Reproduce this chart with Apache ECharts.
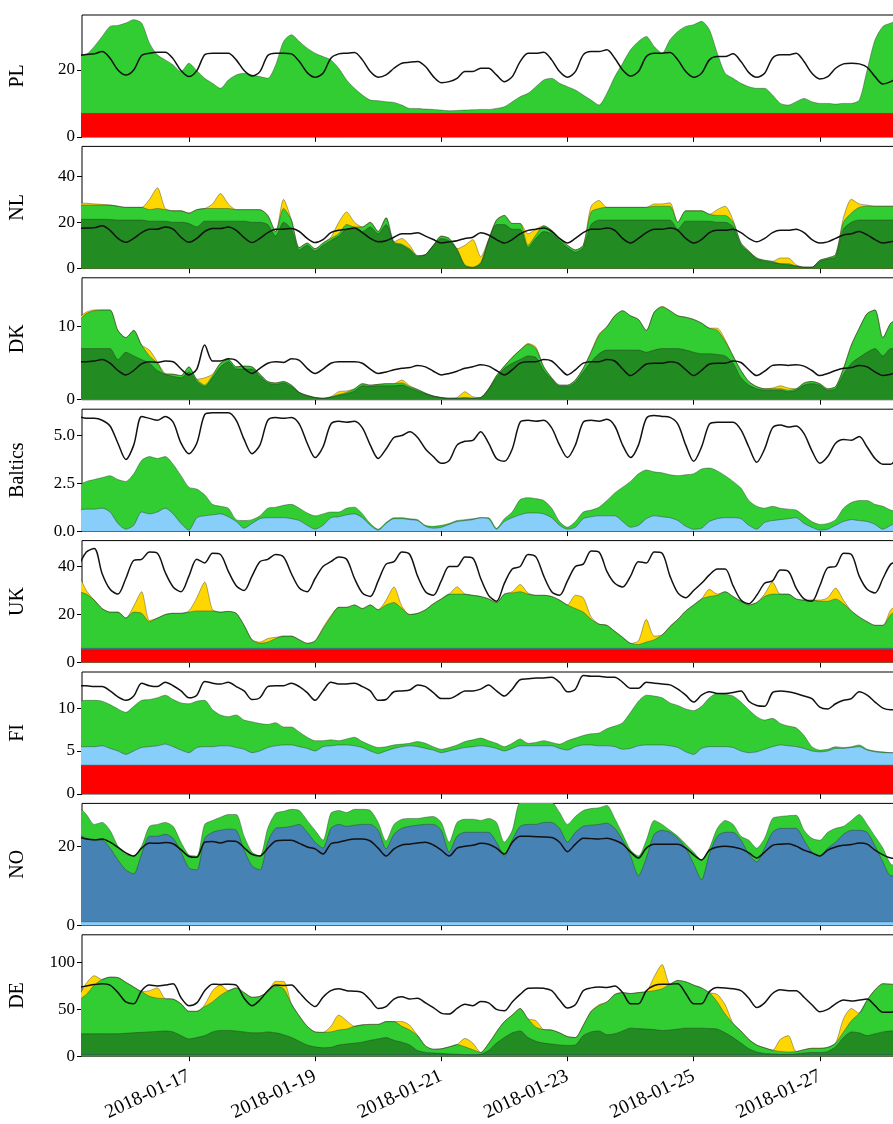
<!DOCTYPE html>
<html>
<head>
<meta charset="utf-8">
<script src="https://cdn.jsdelivr.net/npm/echarts@6/dist/echarts.min.js"></script>
<style>
  html, body { margin: 0; padding: 0; background: #fff; overflow: hidden; }
  /* the figure is wider than the window: its right part is cut off, as in the source */
  #chart { width: 960px; height: 1124px; }
</style>
</head>
<body>
<div id="chart"></div>
<script>
// 3-hourly samples from 2018-01-15 06:00, daily samples from 2018-01-15 00:00
const T0 = new Date(2018, 0, 15, 6).getTime();
const STEP = 3 * 3600 * 1000;
const D0 = new Date(2018, 0, 15).getTime();
const DAY = 24 * 3600 * 1000;

// ---- PL ----
const PL_LOAD = [
  24.3, 24.6, 24.8, 25.5, 23.5, 20,
  18.5, 20, 24.3, 25, 25.3, 25.3, 23.3, 19.8,
  18, 19.8, 24.5, 25, 25, 25, 23, 19.8,
  18.2, 19.5, 24.3, 25, 25, 24.8, 22.5, 19.2,
  17.8, 19, 23.5, 24.8, 25, 25.2, 23, 19.5,
  17.8, 18.5, 20.5, 22, 22.3, 22.5, 21, 18,
  16.2, 16.5, 17.5, 19.5, 19.5, 20.5, 20.5, 18.5,
  16.5, 18, 22.5, 25, 25, 25.3, 23, 19.5,
  17.8, 19.5, 24.5, 25.5, 25.5, 26, 23.5, 20,
  18.2, 19.5, 24, 25, 25, 25.2, 23, 19.5,
  17.8, 19, 23, 24, 24, 24.8, 22.5, 19.2,
  17.8, 19, 23.5, 24.5, 24.5, 25, 22.5, 19,
  17.3, 18, 20.5, 21.8, 22, 21.8, 20.8, 18,
  15.8, 16.5, 18
];
const PL_WIND = [
  24.5, 24.7, 27, 30, 33, 33.3, 34, 35,
  34, 28, 24.5, 23, 21.5, 19.5, 22, 19.8,
  17.5, 16, 14.5, 17, 18.5, 19, 18.5, 18,
  17.5, 21.5, 28.5, 30.5, 28.5, 26.5, 25, 24,
  23, 20.5, 17, 14.5, 12.5, 11, 10.8, 10.5,
  10.3, 9.5, 8.5, 8.5, 8.3, 8.2, 8.0, 7.8,
  7.9, 8.0, 8.1, 8.2, 8.2, 8.5, 9, 10.5,
  12, 13, 15, 17, 17.5, 16, 15, 14,
  12.5, 11, 9.5, 13, 18, 22, 26, 28.5,
  30, 27, 25, 29, 31.5, 33, 33.5, 34.5,
  32, 25, 19, 17.5, 16, 15, 14.5, 14.5,
  12.5, 10, 9.5, 10.5, 11.5, 10.5, 10, 10,
  9.8, 10, 10, 11, 20, 29, 33, 34,
  35
];
const PL_BASE = [7, 7, 7, 7, 7, 7, 7, 7, 7, 7, 7, 7, 7, 7, 7];

// ---- NL ----
const NL_LOAD = [
  17.3, 17.5, 17.6, 18.5, 16.5, 13,
  11.3, 13, 15.5, 17, 17, 18, 17, 13.5,
  11.3, 13, 16, 17.3, 17.3, 18, 16.5, 13.3,
  11.2, 13, 15.5, 17, 17, 17.3, 16, 13,
  11.2, 12.5, 15.5, 16.5, 17, 17.5, 15.5, 13,
  11.5, 12, 13.5, 15, 15, 15.5, 14, 12.5,
  11, 11.5, 12, 13, 13.5, 15.5, 14.5, 12.5,
  11, 12.5, 15, 16.5, 17, 17.5, 16, 13,
  11, 13, 15.5, 17, 17, 17.5, 16.5, 13,
  11, 13, 15.5, 17, 17, 17.5, 16.5, 13,
  11, 12.5, 15.5, 16.5, 16.5, 17, 15.5, 13,
  11.5, 13, 15.5, 16.5, 16.5, 17, 15.5, 12.5,
  11, 11.5, 13, 14.5, 15, 16, 14.5, 12.5,
  11, 11.5, 12
];
const NL_DARK = [
  21.3, 21.3, 21.3, 21.3, 21.2, 21, 21, 21,
  21, 20.5, 20.5, 20.5, 20, 20, 19.5, 18,
  20.5, 20.5, 20.5, 20.5, 20.5, 20.5, 20, 20,
  19, 14, 20, 17, 8, 10, 7.5, 10,
  12, 14, 17, 17, 16, 18, 15, 19,
  11, 10, 8, 5, 6, 10, 13, 12,
  8, 1, 0.3, 2, 12, 19, 19, 17,
  17, 9, 13, 16, 15, 12, 9, 7,
  9, 19, 21, 21, 21, 21, 21, 21,
  21, 21, 21, 21, 17, 20.5, 20.5, 20.5,
  20.5, 20, 20, 18, 10, 7, 4, 3,
  2.5, 2, 1.5, 1, 0.5, 0.5, 3, 4,
  5, 17, 20, 21, 21, 21, 21, 21,
  21
];
const NL_GREEN = [
  27.5, 27.5, 27.5, 27.5, 27.5, 27, 26.5, 26.5,
  26.5, 25.5, 26, 25.5, 25, 25, 24, 25.5,
  26, 26, 26, 26, 25.5, 25.5, 25.5, 25.5,
  23, 16, 26, 21, 9, 11, 8.5, 11,
  13, 15, 19, 18, 18, 20, 16, 22,
  11.5, 10.5, 8.5, 5.5, 6, 10, 14, 13,
  8.5, 1.5, 0.5, 2.5, 12.5, 21, 23, 19.5,
  19.5, 10, 14.5, 18.5, 16.5, 13, 10, 8,
  10, 24.5, 26, 26.5, 26.5, 26.5, 26.5, 26.5,
  26.5, 27, 27, 27, 20, 25, 25, 25,
  23.5, 23, 23, 20, 11, 7.5, 4.5, 3.5,
  3, 2, 2, 1, 0.5, 0.5, 3.5, 4.5,
  6, 20, 24, 26.5, 27, 27, 27, 27,
  27
];
const NL_GOLD = [
  28.3, 28.3, 28, 27.8, 27.5, 27, 26.5, 26.5,
  26.5, 30, 35, 26, 25, 25, 24, 25.5,
  26, 28, 32.5, 28, 25.5, 25.5, 25.5, 25.5,
  23, 16, 30, 21, 9, 11, 8.5, 11,
  13.5, 20, 24.5, 20, 18, 20, 16, 22,
  11.5, 13, 10, 5.5, 6, 10, 14, 13,
  8.5, 10, 12.5, 5, 12.5, 21, 23, 19.5,
  19.5, 15, 17, 18.5, 16.5, 13, 10, 8,
  10, 27, 29.5, 26.5, 26.5, 26.5, 26.5, 26.5,
  26.5, 28, 28, 28.5, 20, 25, 25, 25,
  23.5, 25.5, 27, 21, 11, 7.5, 4.5, 3.5,
  3, 4.5, 4.5, 1.5, 0.5, 0.5, 3.5, 4.5,
  6, 22, 30, 28, 27.5, 27, 27, 27,
  27
];

// ---- DK ----
const DK_LOAD = [
  5.2, 5.2, 5.3, 5.5, 5, 4,
  3.4, 4, 4.9, 5.2, 5.1, 5.3, 5.2, 4.2,
  3.4, 4.2, 7.5, 5.3, 5.3, 5.6, 5.4, 4.3,
  3.6, 4.3, 5, 5.2, 5.1, 5.6, 5.4, 4.3,
  3.6, 4.2, 5, 5.2, 5.2, 5.2, 5, 4.2,
  3.6, 3.8, 4.1, 4.3, 4.4, 4.7, 4.5, 3.9,
  3.4, 3.6, 3.9, 4.3, 4.5, 4.8, 4.6, 4,
  3.4, 4.1, 5, 5.2, 5.2, 5.5, 5.3, 4.3,
  3.4, 4.1, 5, 5.2, 5.2, 5.5, 5.3, 4.2,
  3.3, 4, 4.9, 5, 5, 5.2, 5, 4.1,
  3.3, 4, 4.9, 5, 5, 5.3, 5.1, 4.1,
  3.3, 3.9, 4.7, 4.8, 4.7, 4.8, 4.6, 4,
  3.3, 3.6, 4, 4.3, 4.4, 4.7, 4.5, 3.8,
  3.3, 3.5, 3.8
];
const DK_DARK = [
  7, 7, 7, 7, 7, 5.5, 6.5, 6,
  5.5, 5, 4, 3.5, 3.2, 3, 3.8, 2.5,
  1.8, 3, 4.5, 5.2, 4.2, 4.2, 4.2, 3.2,
  2.3, 2.1, 2.3, 1.8, 1, 0.5, 0.3, 0.2,
  0.3, 0.6, 0.8, 1.2, 1.9, 1.8, 1.9, 1.9,
  1.9, 2, 1.6, 1.2, 0.8, 0.5, 0.3, 0.2,
  0.2, 0.2, 0.2, 0.3, 1.4, 3, 4.3, 5,
  5.5, 6, 5.8, 4, 2.8, 1.8, 1.8, 2.4,
  3.8, 5.2, 6.3, 6.8, 6.8, 6.8, 6.8, 6.8,
  6.5, 6.8, 7, 7, 7, 6.8, 6.5, 6.3,
  6.3, 6.2, 6, 5, 3, 2, 1.5, 1.3,
  1.3, 1.3, 1.1, 1.3, 2, 2.2, 2, 1.3,
  1.5, 3.5, 5, 5.8, 6.5, 7, 6, 7,
  7
];
const DK_GREEN = [
  10.8, 11.8, 12.2, 12.3, 12.3, 9.5, 8.5, 9.5,
  7.5, 6, 5, 3.5, 3.5, 3.3, 4.5, 2.8,
  2, 3.3, 5, 5.5, 4.5, 4.6, 4.5, 3.5,
  2.5, 2.3, 2.5, 2, 1, 0.6, 0.3, 0.2,
  0.4, 0.7, 1, 1.5, 2.2, 2, 2.1, 2.2,
  2.2, 2.3, 1.8, 1.4, 0.9, 0.5, 0.3, 0.2,
  0.2, 0.3, 0.2, 0.3, 1.5, 3.3, 4.6, 5.8,
  6.8, 7.6, 7, 4.5, 3, 2, 2, 2.7,
  4.3, 6.5, 8.8, 10, 11.5, 12.2, 11.5, 11,
  9.5, 12, 12.7, 12.2, 11.5, 11.3, 11, 10.5,
  9.8, 9.5, 8, 6, 4, 2.5, 1.8, 1.5,
  1.5, 1.5, 1.3, 1.5, 2.3, 2.5, 2.2, 1.5,
  1.8, 4.3, 7.5, 9.8, 11.8, 12.3, 8.5, 10.5,
  11
];
const DK_GOLD = [
  11.2, 12, 12.3, 12.3, 12.3, 9.5, 8.5, 9.5,
  7.5, 6.8, 5.2, 3.6, 3.5, 3.3, 4.5, 2.8,
  3, 3.5, 5, 5.5, 4.5, 4.6, 4.5, 3.5,
  2.5, 2.3, 2.5, 2, 1, 0.6, 0.3, 0.2,
  0.4, 1.1, 1.2, 1.5, 2.2, 2, 2.1, 2.2,
  2.2, 2.7, 1.9, 1.4, 0.9, 0.5, 0.3, 0.2,
  0.3, 1.1, 0.4, 0.3, 1.5, 3.3, 4.6, 5.8,
  6.8, 7.7, 7.2, 4.5, 3, 2, 2, 2.7,
  4.3, 6.6, 9, 10, 11.5, 12.2, 11.5, 11,
  9.5, 12, 12.8, 12.2, 11.5, 11.3, 11, 10.5,
  9.8, 9.8, 8.2, 6, 4, 2.5, 1.8, 1.5,
  1.6, 1.9, 1.6, 1.5, 2.3, 2.5, 2.2, 1.5,
  1.8, 4.3, 7.5, 9.8, 11.8, 12.3, 8.5, 10.5,
  11
];

// ---- Baltics ----
const BA_LOAD = [
  6.0, 5.9, 5.9, 5.8, 5.5, 4.6,
  3.75, 4.5, 6.0, 5.9, 5.8, 6.0, 5.7, 4.6,
  4.05, 4.6, 6.1, 6.2, 6.2, 6.2, 5.8, 4.8,
  4.05, 4.5, 5.8, 5.95, 5.9, 5.95, 5.6, 4.6,
  3.85, 4.4, 5.6, 5.75, 5.7, 5.75, 5.4, 4.5,
  3.8, 4.3, 4.9, 5.0, 5.2, 4.9, 4.3, 3.9,
  3.55, 3.7, 4.5, 4.7, 4.75, 5.2, 4.6, 3.8,
  3.65, 4.3, 5.7, 5.8, 5.75, 5.8, 5.4, 4.5,
  3.85, 4.5, 5.7, 5.8, 5.75, 5.85, 5.5, 4.5,
  3.85, 4.5, 5.9, 6.05, 6.0, 5.95, 5.6, 4.5,
  3.65, 4.4, 5.6, 5.7, 5.7, 5.7, 5.3, 4.4,
  3.6, 4.3, 5.4, 5.55, 5.45, 5.5, 5.1, 4.2,
  3.55, 3.9, 4.6, 4.8, 4.75, 4.95, 4.4, 3.8,
  3.5, 3.5, 4.2
];
const BA_HYDRO = [
  1.1, 1.15, 1.15, 1.2, 1.0, 0.4, 0.1, 0.3,
  1.0, 0.9, 1.0, 1.2, 0.9, 0.4, 0.05, 0.7,
  0.8, 0.85, 0.9, 0.75, 0.5, 0.15, 0.4, 0.65,
  0.7, 0.7, 0.7, 0.65, 0.55, 0.3, 0.1, 0.3,
  0.7, 0.75, 0.85, 0.9, 0.7, 0.3, 0.05, 0.4,
  0.65, 0.65, 0.6, 0.55, 0.25, 0.15, 0.2, 0.35,
  0.5, 0.55, 0.6, 0.7, 0.65, 0.1, 0.5, 0.7,
  0.85, 0.95, 0.95, 0.9, 0.7, 0.3, 0.1, 0.2,
  0.65, 0.75, 0.8, 0.8, 0.8, 0.5, 0.2, 0.3,
  0.65, 0.8, 0.75, 0.7, 0.55, 0.25, 0.1, 0.15,
  0.5, 0.65, 0.7, 0.7, 0.65, 0.3, 0.1, 0.45,
  0.55, 0.6, 0.65, 0.7, 0.4, 0.2, 0.05, 0.1,
  0.3, 0.5, 0.6, 0.55, 0.5, 0.35, 0.1, 0.3,
  0.5
];
const BA_WIND = [
  2.4, 2.6, 2.7, 2.8, 2.9, 2.7, 2.6, 3.0,
  3.7, 3.9, 3.8, 3.9, 3.5, 2.9, 2.3, 2.2,
  1.9, 1.4, 1.3, 1.2, 0.6, 0.55, 0.6, 0.8,
  1.2, 1.25, 1.35, 1.4, 1.2, 0.95, 0.8, 0.9,
  1.0, 1.0, 1.2, 1.25, 0.9, 0.4, 0.1, 0.45,
  0.7, 0.7, 0.65, 0.6, 0.3, 0.25, 0.3, 0.4,
  0.55, 0.6, 0.65, 0.7, 0.7, 0.15, 0.65, 1.0,
  1.65, 1.75, 1.7, 1.6, 1.2, 0.5, 0.2, 0.5,
  1.0, 1.1, 1.25, 1.6, 2.0, 2.3, 2.6, 3.0,
  3.2, 3.1, 3.05, 2.95, 2.9, 2.95, 3.0, 3.25,
  3.3, 3.15, 2.9, 2.6, 2.25, 1.6, 1.3, 1.2,
  1.3, 1.2, 1.15, 1.1, 0.8, 0.5, 0.35, 0.4,
  0.6, 1.2, 1.5, 1.6, 1.6, 1.4, 1.3, 1.1,
  1.0
];

// ---- UK ----
const UK_LOAD = [
  40, 46, 47.5, 37, 30.5, 28.5,
  35, 42.5, 43, 46, 45.5, 37.5, 31.5, 29.5,
  36, 43, 41.5, 45.5, 45, 38, 32, 30,
  36, 42, 43, 45, 44, 37, 31, 29.5,
  35, 40, 42, 44, 43, 35, 29, 27.5,
  34, 41, 42, 46, 45, 36, 29.5, 28,
  34, 40, 40, 44, 43.5, 35, 28, 25.5,
  33, 39, 40, 45, 44, 36, 29.5, 28,
  34, 40, 41, 46.5, 46, 38, 33, 31.5,
  36, 42, 41.5, 46, 45.5, 36, 29, 27,
  30, 33, 36.5, 39, 39, 32, 26, 24.5,
  28, 33, 34, 38.5, 38, 31, 26.5, 25.5,
  32, 39.5, 40, 45.5, 45, 36, 30.5, 29,
  35, 41, 42
];
const UK_WIND = [
  29.5, 28.5, 26, 22.5, 21, 21, 18.5, 21,
  20.5, 17, 18.5, 20, 20.5, 20.5, 21, 21.5,
  21.5, 21.5, 21, 21.3, 20.5, 15.5, 9.5, 8,
  8.5, 10, 11, 11, 9.5, 8, 9, 14,
  19, 23, 23, 24, 22.5, 24, 22, 24,
  25, 22.5, 20, 20.5, 22, 24.5, 26.5, 28.5,
  28.5, 28.5, 28, 27.5, 26.5, 25, 28.5, 29,
  29.5, 28.5, 28, 28, 27.5, 26, 24, 22.5,
  21, 18, 16, 15.5, 13, 10.5, 8, 7.5,
  8.5, 9.5, 11.5, 15, 18, 21.5, 24, 26.5,
  27.5, 28, 29.5, 27.5, 25.5, 24, 25, 27.5,
  28.5, 28.5, 28.5, 26.5, 26, 26, 25.5, 25.5,
  26.5, 24.5, 21.5, 19, 17, 15.5, 15.5, 20,
  22
];
const UK_SOLAR = [
  37, 30, 26, 22.5, 21, 21, 18.5, 23.5,
  29.5, 17.5, 18.5, 20, 20.5, 20.5, 21.5, 27,
  33.5, 22, 21, 21.3, 20.5, 15.5, 9.5, 8.5,
  10, 10.5, 11, 11, 9.5, 8, 9, 14.5,
  19.5, 23, 23, 24, 22.5, 24, 22, 26,
  31.5, 23.5, 20, 20.5, 22, 24.5, 26.5, 28.5,
  31.5, 28.5, 28, 27.5, 26.5, 25, 28.5, 29.5,
  32.5, 29, 28, 28, 27.5, 26, 24, 28,
  27, 19, 16, 15.5, 13, 10.5, 8, 9,
  18, 11, 11.5, 15, 18, 21.5, 24, 26.5,
  30.5, 28.5, 29.5, 27.5, 25.5, 24, 25, 28.5,
  33.5, 28.5, 28.5, 26.5, 26, 26, 26, 27,
  31, 26, 21.5, 19, 17, 15.5, 15.5, 22,
  24
];
const UK_HYDRO = [5.9, 5.9, 5.9, 5.9, 5.9, 5.9, 5.9, 5.9, 5.9, 5.9, 5.9, 5.9, 5.9, 5.9, 5.9];
const UK_BASE = [5.3, 5.3, 5.3, 5.3, 5.3, 5.3, 5.3, 5.3, 5.3, 5.3, 5.3, 5.3, 5.3, 5.3, 5.3];

// ---- FI ----
const FI_LOAD = [
  12.6, 12.6, 12.5, 12.5, 12, 11.3, 10.9, 11.4,
  12.9, 12.6, 12.5, 13, 12.6, 12, 11.2, 11.5,
  13.1, 12.9, 12.8, 13, 12.5, 12, 11, 11.2,
  12.5, 12.6, 12.6, 12.9, 12.5, 11.8, 10.9, 12,
  13, 12.8, 12.8, 12.9, 12.5, 12, 10.9, 11,
  11.9, 12, 12.1, 12.7, 12.5, 11.8, 11.1, 11.1,
  11.5, 12, 12, 12.2, 12.7, 12, 11.4, 12.2,
  13.3, 13.4, 13.5, 13.5, 13.6, 13, 11.9, 12.2,
  13.8, 13.7, 13.7, 13.6, 13.6, 13, 12.3, 12.3,
  13, 12.9, 12.8, 12.7, 12.2, 11.5, 10.7, 11.5,
  11.9, 11.7, 11.7, 11.8, 12, 10.8, 10.3, 10.2,
  11.8, 12, 11.9, 11.7, 11.4, 11.1, 10.1, 9.9,
  10.5, 10.9, 11.1, 11.9, 11.5, 10.7, 10, 9.8,
  9.8
];
const FI_HYDRO = [
  5.5, 5.5, 5.5, 5.6, 5.3, 5.0, 4.6, 5.0,
  5.4, 5.5, 5.6, 5.8, 5.5, 5.1, 4.8, 5.4,
  5.5, 5.5, 5.6, 5.6, 5.4, 5.2, 4.8, 5.0,
  5.4, 5.6, 5.7, 5.7, 5.5, 5.3, 5.0, 5.5,
  5.6, 5.7, 5.7, 5.6, 5.4, 5.0, 4.7, 5.0,
  5.3, 5.5, 5.6, 5.5, 5.3, 5.1, 4.8, 5.0,
  5.2, 5.4, 5.5, 5.6, 5.5, 5.3, 5.0, 5.3,
  5.6, 5.6, 5.6, 5.6, 5.6, 5.3, 5.1, 5.5,
  5.7, 5.7, 5.6, 5.6, 5.5, 5.2, 5.3, 5.6,
  5.7, 5.7, 5.7, 5.6, 5.4, 4.9, 4.6, 5.3,
  5.5, 5.5, 5.5, 5.4, 5.0, 4.8, 4.9, 5.2,
  5.5, 5.7, 5.6, 5.5, 5.3, 5.0, 4.9, 5.0,
  5.3, 5.3, 5.4, 5.5, 5.1, 4.9, 4.8, 4.8,
  4.8
];
const FI_WIND = [
  10.8, 10.9, 10.9, 10.8, 10.4, 9.9, 9.5, 10.2,
  10.9, 11.0, 11.2, 11.5, 11.0, 10.6, 10.5, 10.8,
  10.9, 9.8, 9.2, 9.0, 9.2, 8.6, 8.4, 8.2,
  8.1, 8.3, 7.8, 7.8, 7.2, 6.6, 6.2, 6.2,
  6.3, 6.2, 6.4, 6.6, 6.1, 5.7, 5.4, 5.5,
  5.7, 5.8, 5.9, 6.1, 5.9, 5.5, 5.2, 5.4,
  5.7, 6.1, 6.3, 6.5, 6.2, 5.9, 5.5, 5.9,
  6.4, 5.9, 6.0, 6.2, 6.0, 5.8, 6.2, 6.5,
  6.8, 7.0, 7.1, 7.6, 7.9, 8.3, 9.5, 10.8,
  11.5, 11.4, 11.2, 10.6, 10.3, 9.9, 9.7, 10.2,
  11.2, 11.7, 11.6, 11.4, 10.7, 9.8, 9.0, 8.6,
  8.8, 8.2, 7.9, 7.7, 6.8, 5.5, 5.1, 5.2,
  5.5, 5.4, 5.5, 5.7, 5.2, 5.0, 4.9, 4.8,
  4.8
];
const FI_BASE = [3.35, 3.35, 3.35, 3.35, 3.35, 3.35, 3.35, 3.35, 3.35, 3.35, 3.35, 3.35, 3.35, 3.35, 3.35];

// ---- NO ----
const NO_LOAD = [
  22.3, 21.8, 21.6, 21.8, 21, 19.7, 18.3, 17.5,
  19.5, 20.8, 20.7, 20.9, 20.6, 19.1, 17.4, 17.2,
  21, 21.2, 20.8, 21.3, 21.2, 19.6, 17.9, 17.5,
  19.5, 21.3, 21.5, 21.5, 20.7, 19.8, 19.3, 18,
  20.6, 21, 21.5, 21.8, 21.8, 21.3, 19.5, 17.5,
  19.3, 20.3, 20.5, 20.8, 21, 20.3, 19, 17.5,
  19.5, 20, 20.2, 20.7, 20.5, 19.5, 18, 21,
  22.5, 22.5, 22.4, 22.3, 22.2, 21, 18.6, 20.5,
  22, 21.9, 21.8, 22, 21.5, 20.5, 18.5, 17,
  19.5, 20.5, 20.5, 20.5, 20.5, 19.5, 17.8, 16.5,
  19, 19.8, 20, 19.8, 19.3, 18.3, 17, 18.5,
  20.2, 20.5, 20.6, 20, 19, 18.3, 17.5, 19,
  19.8, 20.2, 20.4, 20.8, 20.5, 19, 17.8, 17,
  16.8
];
const NO_HYDRO = [
  23, 22, 21.5, 21.5, 19.5, 16.5, 14, 13,
  18, 22.5, 22.5, 23, 22, 18.5, 14.5, 14,
  22, 23.5, 24, 24.3, 24, 19, 15, 14,
  21, 24.5, 24.7, 25, 25.5, 23.5, 21, 19.5,
  24.5, 25.5, 25, 25.3, 25.5, 25.5, 24, 19.3,
  23, 24.5, 25, 25.3, 25.5, 25.5, 24, 18.5,
  22.5, 23.5, 23.5, 23.5, 23.5, 21, 17.5, 21.5,
  25, 25.5, 25.5, 26, 26, 24.5, 21, 23.5,
  25, 25.3, 25.5, 25.8, 24.5, 21.5, 17.5, 12.5,
  17, 23, 24, 23.5, 22, 19.5, 15.5, 11.5,
  18, 22.5, 23.5, 23.5, 21.5, 18, 16, 19.5,
  23.5, 24.5, 24.5, 24.5, 21.5, 18.5, 17.5, 19.5,
  21, 23, 24, 24, 23.5, 20, 16, 12.5,
  12.5
];
const NO_WIND = [
  30, 28, 25.5, 26, 24, 20, 18, 17.5,
  20, 25, 25.5, 26, 25, 21, 17.8, 17.5,
  25.5, 26.5, 27.3, 28, 28, 22.5, 18.5, 17.5,
  24.5, 28.3, 28.8, 29.3, 29, 26.5, 24, 21.5,
  28.3, 29, 28.5, 29.3, 29.3, 29, 26, 21.3,
  25.5, 26.8, 27, 27, 27.3, 27.5, 26, 21,
  26, 26.8, 26.8, 26.5, 27, 26, 21, 24,
  31, 31, 31, 31, 31, 28.5, 25.5, 27.5,
  29, 29.5, 29.7, 30.3, 27, 23, 19, 17.5,
  21.5, 26.5, 25.5, 24, 22.5, 20.5, 18.5, 16.5,
  19.5, 24.5, 26.5, 25.5, 22.5, 21.5, 19.5, 22,
  27, 27.5, 27.7, 27.8, 24, 22, 21.5, 23.5,
  24.5, 25, 26.5, 28, 25.5, 22.5, 19.5, 15.5,
  15
];
const NO_BASE = [0.9, 0.9, 0.9, 0.9, 0.9, 0.9, 0.9, 0.9, 0.9, 0.9, 0.9, 0.9, 0.9, 0.9, 0.9];

// ---- DE ----
const DE_LOAD = [
  73.5, 75, 76.5, 77.5, 76, 68, 58, 56,
  70, 76, 75, 76, 77.5, 62.5, 54, 57,
  70, 77, 76.5, 77, 76, 62, 54, 60,
  70, 76, 75.5, 76, 68, 59, 53, 63,
  70, 72, 70, 69.5, 68, 60, 51, 53,
  61, 63.5, 61, 62, 57, 52, 46, 45,
  51, 55.5, 54, 58.5, 57, 50, 48.5, 58,
  66, 72.5, 73, 72.5, 70, 60, 51.5, 55,
  70, 73, 74, 73.5, 75, 68, 56, 56,
  70, 75.5, 77, 77, 77.5, 67, 56, 56,
  69, 73.5, 73, 72, 70, 62, 52, 57,
  67, 71, 70, 70, 63, 55, 47.5, 50,
  56, 60, 59, 60, 61, 54, 47, 47,
  50
];
const DE_DARK = [
  24, 24, 24, 24, 24, 24, 24.5, 25,
  25.5, 26, 26.5, 27, 26, 22, 18.5, 20,
  22, 26, 27.5, 27.5, 27, 26, 25, 25,
  26, 25, 23, 20, 16, 12, 10, 9,
  9.5, 12, 13, 14, 15, 17, 18.5, 20,
  17, 15, 12, 6, 4, 3.5, 3, 2.5,
  2, 1.5, 1.5, 2, 6, 14, 20, 25,
  27, 20, 16, 14, 13, 12, 11.5, 12,
  22, 26, 27, 23, 24, 27, 30, 29.5,
  29, 28.5, 27.5, 28, 29, 30, 30, 30,
  29.5, 29, 25, 20, 14, 8, 4.5, 3,
  2.5, 2, 2, 2.5, 3.5, 4, 4, 5,
  10, 20, 26, 25, 22, 24, 26, 27,
  27
];
const DE_GREEN = [
  60, 66, 76, 82, 84.5, 84, 79, 74,
  69, 64, 62, 61.5, 61, 56, 48, 48,
  53, 58, 65, 70, 73, 68, 63, 64,
  69, 75, 72, 56, 43, 32, 26, 25.5,
  26, 28, 29, 32, 33.5, 34, 34, 37,
  37, 32, 28, 22, 11, 7.5, 8, 10,
  12.5, 10, 7, 4, 13.5, 26, 37, 44,
  51, 40, 31, 28.5, 28, 25, 21, 20,
  33, 48, 54, 58, 66, 68, 67, 68,
  69, 70, 72, 77, 81, 79.5, 76, 73,
  68, 58, 45, 35, 27, 18, 12, 9,
  6.5, 5, 4.5, 5, 7, 8.5, 8.5, 9.5,
  14, 26, 38, 46, 60, 71, 77.5, 77,
  76
];
const DE_GOLD = [
  63, 78, 86, 82, 84.5, 84, 79, 74,
  69, 70, 73, 61.5, 61, 56, 48, 48,
  55, 70, 76, 70, 73, 68, 63, 64,
  69, 80, 80, 56, 43, 32, 26, 25.5,
  32, 44, 38, 32, 33.5, 34, 34, 37,
  37, 37, 33, 22, 11, 7.5, 8, 10,
  12.5, 19, 14, 4, 13.5, 26, 37, 44,
  51, 40, 38, 28.5, 28, 25, 21, 20,
  33, 48, 55, 58, 66, 68, 67, 68,
  69, 85, 98, 77, 81, 79.5, 76, 73,
  68, 66, 55, 35, 27, 18, 12, 9,
  6.5, 18, 22, 5, 7, 8.5, 8.5, 9.5,
  14, 40, 51, 46, 60, 71, 77.5, 77,
  76
];
const DE_BASE = [1.5, 1.5, 1.5, 1.5, 1.5, 1.5, 1.5, 1.5, 1.5, 1.5, 1.5, 1.5, 1.5, 1.5, 1.5];

// x axis (plain numeric time in ms, labelled as dates)
const X_MIN = new Date(2018, 0, 15, 7, 20).getTime();
const X_MAX = new Date(2018, 0, 29).getTime();
const X_TICKS = [17, 19, 21, 23, 25, 27].map(d => new Date(2018, 0, d).getTime());

const COL = {
  red: '#ff0000', lime: '#32cd32', forest: '#228b22', gold: '#ffd700',
  sky: '#87cefa', steel: '#4682b4', load: '#111111'
};

// layers are listed back to front; each holds the visible upper edge
const PANELS = [
  { name: 'PL', max: 36.4, yticks: [0, 20], load: PL_LOAD, layers: [
      { data: PL_WIND, color: COL.lime }, { data: PL_BASE, color: COL.red, daily: true } ] },
  { name: 'NL', max: 53, yticks: [0, 20, 40], load: NL_LOAD, layers: [
      { data: NL_GOLD, color: COL.gold }, { data: NL_GREEN, color: COL.lime }, { data: NL_DARK, color: COL.forest } ] },
  { name: 'DK', max: 16.7, yticks: [0, 10], load: DK_LOAD, layers: [
      { data: DK_GOLD, color: COL.gold }, { data: DK_GREEN, color: COL.lime }, { data: DK_DARK, color: COL.forest } ] },
  { name: 'Baltics', max: 6.38, yticks: [0, 2.5, 5], dec: 1, load: BA_LOAD, layers: [
      { data: BA_WIND, color: COL.lime }, { data: BA_HYDRO, color: COL.sky } ] },
  { name: 'UK', max: 50.8, yticks: [0, 20, 40], load: UK_LOAD, layers: [
      { data: UK_SOLAR, color: COL.gold }, { data: UK_WIND, color: COL.lime },
      { data: UK_HYDRO, color: COL.steel, daily: true }, { data: UK_BASE, color: COL.red, daily: true } ] },
  { name: 'FI', max: 14.2, yticks: [0, 5, 10], load: FI_LOAD, layers: [
      { data: FI_WIND, color: COL.lime }, { data: FI_HYDRO, color: COL.sky }, { data: FI_BASE, color: COL.red, daily: true } ] },
  { name: 'NO', max: 30.8, yticks: [0, 20], load: NO_LOAD, layers: [
      { data: NO_WIND, color: COL.lime }, { data: NO_HYDRO, color: COL.steel }, { data: NO_BASE, color: COL.sky, daily: true } ] },
  { name: 'DE', max: 129.7, yticks: [0, 50, 100], load: DE_LOAD, layers: [
      { data: DE_GOLD, color: COL.gold }, { data: DE_GREEN, color: COL.lime },
      { data: DE_DARK, color: COL.forest }, { data: DE_BASE, color: COL.steel, daily: true } ] }
];

const TOP = 15, H = 121.9, GAP = 131.4, LEFT = 82, WIDTH = 864;
const FONT = '"Liberation Serif", "Times New Roman", serif';

function pairs(values, daily) {
  return values.map((v, i) => [daily ? D0 + i * DAY : T0 + i * STEP, v]);
}
function pad(n) { return n < 10 ? '0' + n : '' + n; }

const grids = [], xAxes = [], yAxes = [], series = [];
PANELS.forEach((p, i) => {
  const last = i === PANELS.length - 1;
  grids.push({ left: LEFT, top: TOP + i * GAP, width: WIDTH, height: H,
               show: true, borderColor: '#000', borderWidth: 1 });
  xAxes.push({
    type: 'value', gridIndex: i, min: X_MIN, max: X_MAX, scale: true,
    axisLine: { show: false },
    splitLine: { show: false },
    axisTick: { show: true, length: 5, customValues: X_TICKS, lineStyle: { color: '#000' } },
    axisLabel: {
      show: last, customValues: X_TICKS, rotate: 25, margin: 19,
      fontFamily: FONT, fontSize: 19.5, color: '#000',
      formatter: v => { const d = new Date(v); return d.getFullYear() + '-' + pad(d.getMonth() + 1) + '-' + pad(d.getDate()); }
    }
  });
  yAxes.push({
    type: 'value', gridIndex: i, min: 0, max: p.max,
    name: p.name, nameLocation: 'middle', nameGap: 54, nameRotate: 90,
    nameTextStyle: { fontFamily: FONT, fontSize: 20, color: '#000' },
    axisLine: { show: false },
    splitLine: { show: false },
    axisTick: { show: true, length: 5, customValues: p.yticks, lineStyle: { color: '#000' } },
    axisLabel: {
      customValues: p.yticks, margin: 7, fontFamily: FONT, fontSize: 17, color: '#000',
      formatter: v => p.dec ? v.toFixed(p.dec) : String(v)
    }
  });
  p.layers.forEach(l => {
    series.push({
      type: 'line', xAxisIndex: i, yAxisIndex: i, data: pairs(l.data, l.daily),
      symbol: 'none', smooth: 0.25,
      lineStyle: { width: 0.7, color: 'rgba(40,40,40,0.55)' },
      areaStyle: { color: l.color, opacity: 1 },
      silent: true
    });
  });
  series.push({
    type: 'line', xAxisIndex: i, yAxisIndex: i, data: pairs(p.load, false),
    symbol: 'none', smooth: 0.3,
    lineStyle: { width: 1.5, color: COL.load },
    silent: true, z: 3
  });
});

const chart = echarts.init(document.getElementById('chart'));
chart.setOption({
  animation: false,
  backgroundColor: '#fff',
  grid: grids,
  xAxis: xAxes,
  yAxis: yAxes,
  series: series
});
</script>
</body>
</html>
